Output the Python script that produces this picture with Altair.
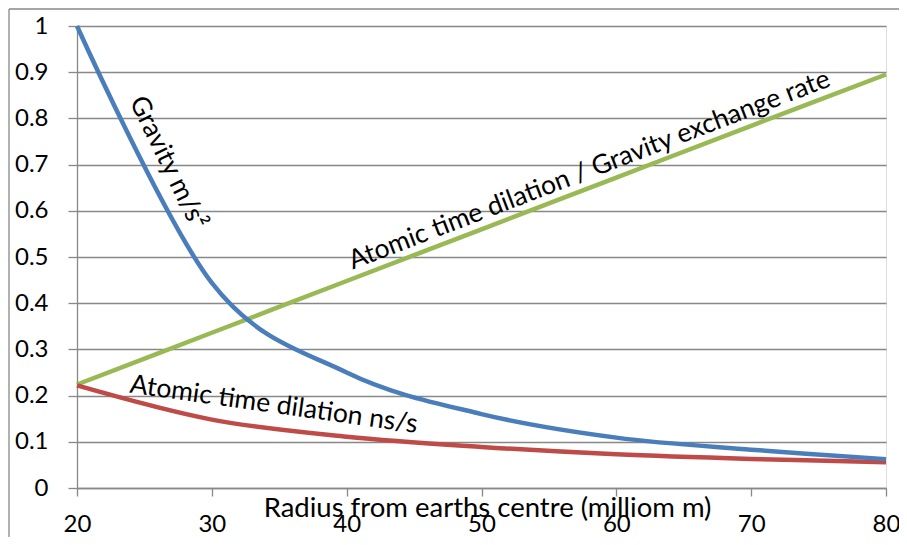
import altair as alt
import pandas as pd

# ---- data ----
radius = [20, 30, 40, 50, 60, 70, 80]
gravity = [1.0, 0.444, 0.25, 0.16, 0.109, 0.083, 0.0625]
dilation = [0.222, 0.148, 0.111, 0.089, 0.073, 0.063, 0.056]
exchange = [0.224, 0.336, 0.448, 0.56, 0.672, 0.784, 0.895]

x_ticks = [20, 30, 40, 50, 60, 70, 80]
y_ticks = [0, 0.1, 0.2, 0.3, 0.4, 0.5, 0.6, 0.7, 0.8, 0.9, 1]

label_texts = ["Gravity m/s²", "Atomic time dilation / Gravity exchange rate", "Atomic time dilation ns/s"]
label_x = [26.75, 58.0, 34.6]
label_y = [0.704, 0.688, 0.18]
label_angle = [64, 339, 8]

FONT = "Lato"
GRAY = "#888888"
W, H = 809, 462
FS = 26.5
TFS = 24

df = pd.DataFrame({"radius": radius, "gravity": gravity, "dilation": dilation, "exchange": exchange})

xs = alt.Scale(domain=[20, 80], nice=False, zero=False)
ys = alt.Scale(domain=[0, 1], nice=False)

xaxis = alt.Axis(values=x_ticks, grid=False, domainColor=GRAY, domainWidth=1.3, tickColor=GRAY,
                 tickWidth=1.3, tickSize=8, labelFont=FONT, labelFontSize=TFS, labelColor="black",
                 labelBaseline="bottom", labelPadding=40, labelFlush=False, labelOverlap=False,
                 title="Radius from earths centre (milliom m)", titleFont=FONT, titleFontSize=27.5,
                 titleFontWeight="normal", titleColor="black", titleBaseline="alphabetic",
                 titleY=28, titleX=410, titleAnchor="middle")
yaxis = alt.Axis(values=y_ticks, format=".1~f", grid=True, gridColor=GRAY, gridWidth=1.3,
                 domainColor=GRAY, domainWidth=1.3, tickColor=GRAY, tickWidth=1.3, tickSize=9,
                 labelFont=FONT, labelFontSize=TFS, labelColor="black", labelPadding=20,
                 labelBaseline="middle", labelFlush=False, labelOverlap=False, title=None)

base = alt.Chart(df)

def line(field, color):
    return base.mark_line(color=color, strokeWidth=4.5, interpolate="cardinal", clip=False).encode(
        x=alt.X("radius:Q", scale=xs, axis=xaxis),
        y=alt.Y(f"{field}:Q", scale=ys, axis=yaxis),
    )

layers = [
    line("exchange", "#98B954"),
    line("dilation", "#BE4B48"),
    line("gravity", "#4A7EBB"),
]

for t, lx, ly, a in zip(label_texts, label_x, label_y, label_angle):
    ldf = pd.DataFrame({"radius": [lx], "y": [ly], "t": [t]})
    layers.append(
        alt.Chart(ldf).mark_text(font=FONT, fontSize=FS, angle=a, align="center", baseline="middle",
                                 color="black").encode(
            x=alt.X("radius:Q", scale=xs, axis=xaxis), y=alt.Y("y:Q", scale=ys, axis=yaxis), text="t:N")
    )

one = alt.Data(values=[{}])
border_left = alt.Chart(one).mark_rule(stroke=GRAY, strokeWidth=1.3).encode(
    x=alt.value(-68), y=alt.value(-17), y2=alt.value(H + 49))
border_top = alt.Chart(one).mark_rule(stroke=GRAY, strokeWidth=1.3).encode(
    x=alt.value(-68), x2=alt.value(W + 13), y=alt.value(-17))

chart = alt.layer(border_left, border_top, *layers).properties(
    width=W, height=H,
    autosize=alt.AutoSizeParams(type="none"),
    padding={"left": 69, "top": 18, "right": 13, "bottom": 49},
).configure_view(strokeWidth=0).configure(background="white")

chart.save("out.html", embed_options={"renderer": "svg", "actions": False})
